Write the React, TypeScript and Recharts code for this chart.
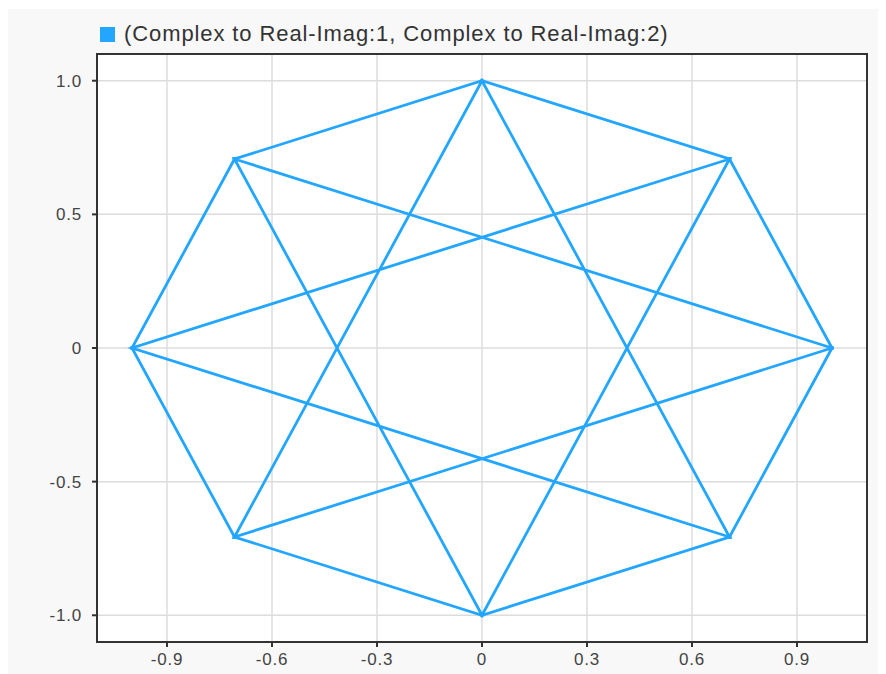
import React from "react";
import {
    ScatterChart,
    Scatter,
    XAxis,
    YAxis,
    CartesianGrid,
    Legend,
    ReferenceArea,
} from "recharts";

// trajectory through the 8 constellation points (octagon, then the {8/3} star)
const realPart = [1, 0.7071, 0, -0.7071, -1, -0.7071, 0, 0.7071, 1, -0.7071, 0, 0.7071, -1, 0.7071, 0, -0.7071, 1];
const imagPart = [0, 0.7071, 1, 0.7071, 0, -0.7071, -1, -0.7071, 0, 0.7071, -1, 0.7071, 0, -0.7071, 1, -0.7071, 0];

const xTicks = [-0.9, -0.6, -0.3, 0, 0.3, 0.6, 0.9];
const yTicks = [-1.0, -0.5, 0, 0.5, 1.0];

const seriesName = "(Complex to Real-Imag:1, Complex to Real-Imag:2)";
const LINE_COLOR = "#22a6ff";

const data = realPart.map((x, i) => ({ x, y: imagPart[i] }));

const fmtY = (v: number) => (v === 0 ? "0" : v.toFixed(1));
const fmtX = (v: number) => (v === 0 ? "0" : String(v));

const LegendBox = () => (
    <div style={{ display: "flex", alignItems: "center", whiteSpace: "nowrap" }}>
        <span style={{ width: 15, height: 15, background: LINE_COLOR, display: "inline-block", marginRight: 9 }} />
        <span style={{ fontFamily: "Liberation Sans, Arial, sans-serif", fontSize: 22, letterSpacing: 0.9, color: "#333" }}>
            {seriesName}
        </span>
    </div>
);

const Dot = (props: any) => <circle cx={props.cx} cy={props.cy} r={2} fill={LINE_COLOR} />;

const tickStyle = { fontFamily: "Liberation Sans, Arial, sans-serif", fontSize: 17, fill: "#444", letterSpacing: 0.8 };

export default function App() {
    return (
        <div style={{ background: "#f8f8f8", width: 878, height: 665, marginTop: 1 }}>
            <ScatterChart width={878} height={665} margin={{ top: 45, right: 19, bottom: 0, left: 0 }}>
                <CartesianGrid stroke="#dcdcdc" strokeWidth={1.5} fill="#fff" />
                <XAxis
                    type="number"
                    dataKey="x"
                    domain={[-1.1, 1.1]}
                    ticks={xTicks}
                    tickFormatter={fmtX}
                    height={32}
                    tick={tickStyle}
                    tickSize={5}
                    tickMargin={6}
                    stroke="#333"
                    strokeWidth={2}
                    allowDataOverflow
                />
                <YAxis
                    type="number"
                    dataKey="y"
                    domain={[-1.1, 1.1]}
                    ticks={yTicks}
                    tickFormatter={fmtY}
                    width={89}
                    tick={tickStyle}
                    tickSize={5}
                    tickMargin={10}
                    stroke="#333"
                    strokeWidth={2}
                    allowDataOverflow
                />
                <ReferenceArea x1={-1.1} x2={1.1} y1={-1.1} y2={1.1} fill="none" stroke="#333" strokeWidth={2} fillOpacity={0} />
                <Legend
                    layout="vertical"
                    verticalAlign="middle"
                    align="center"
                    wrapperStyle={{ top: 12, left: 92, width: 700 }}
                    content={() => <LegendBox />}
                />
                <Scatter
                    name={seriesName}
                    data={data}
                    fill={LINE_COLOR}
                    line={{ stroke: LINE_COLOR, strokeWidth: 2.8 }}
                    lineType="joint"
                    shape={<Dot />}
                    isAnimationActive={false}
                />
            </ScatterChart>
        </div>
    );
}
